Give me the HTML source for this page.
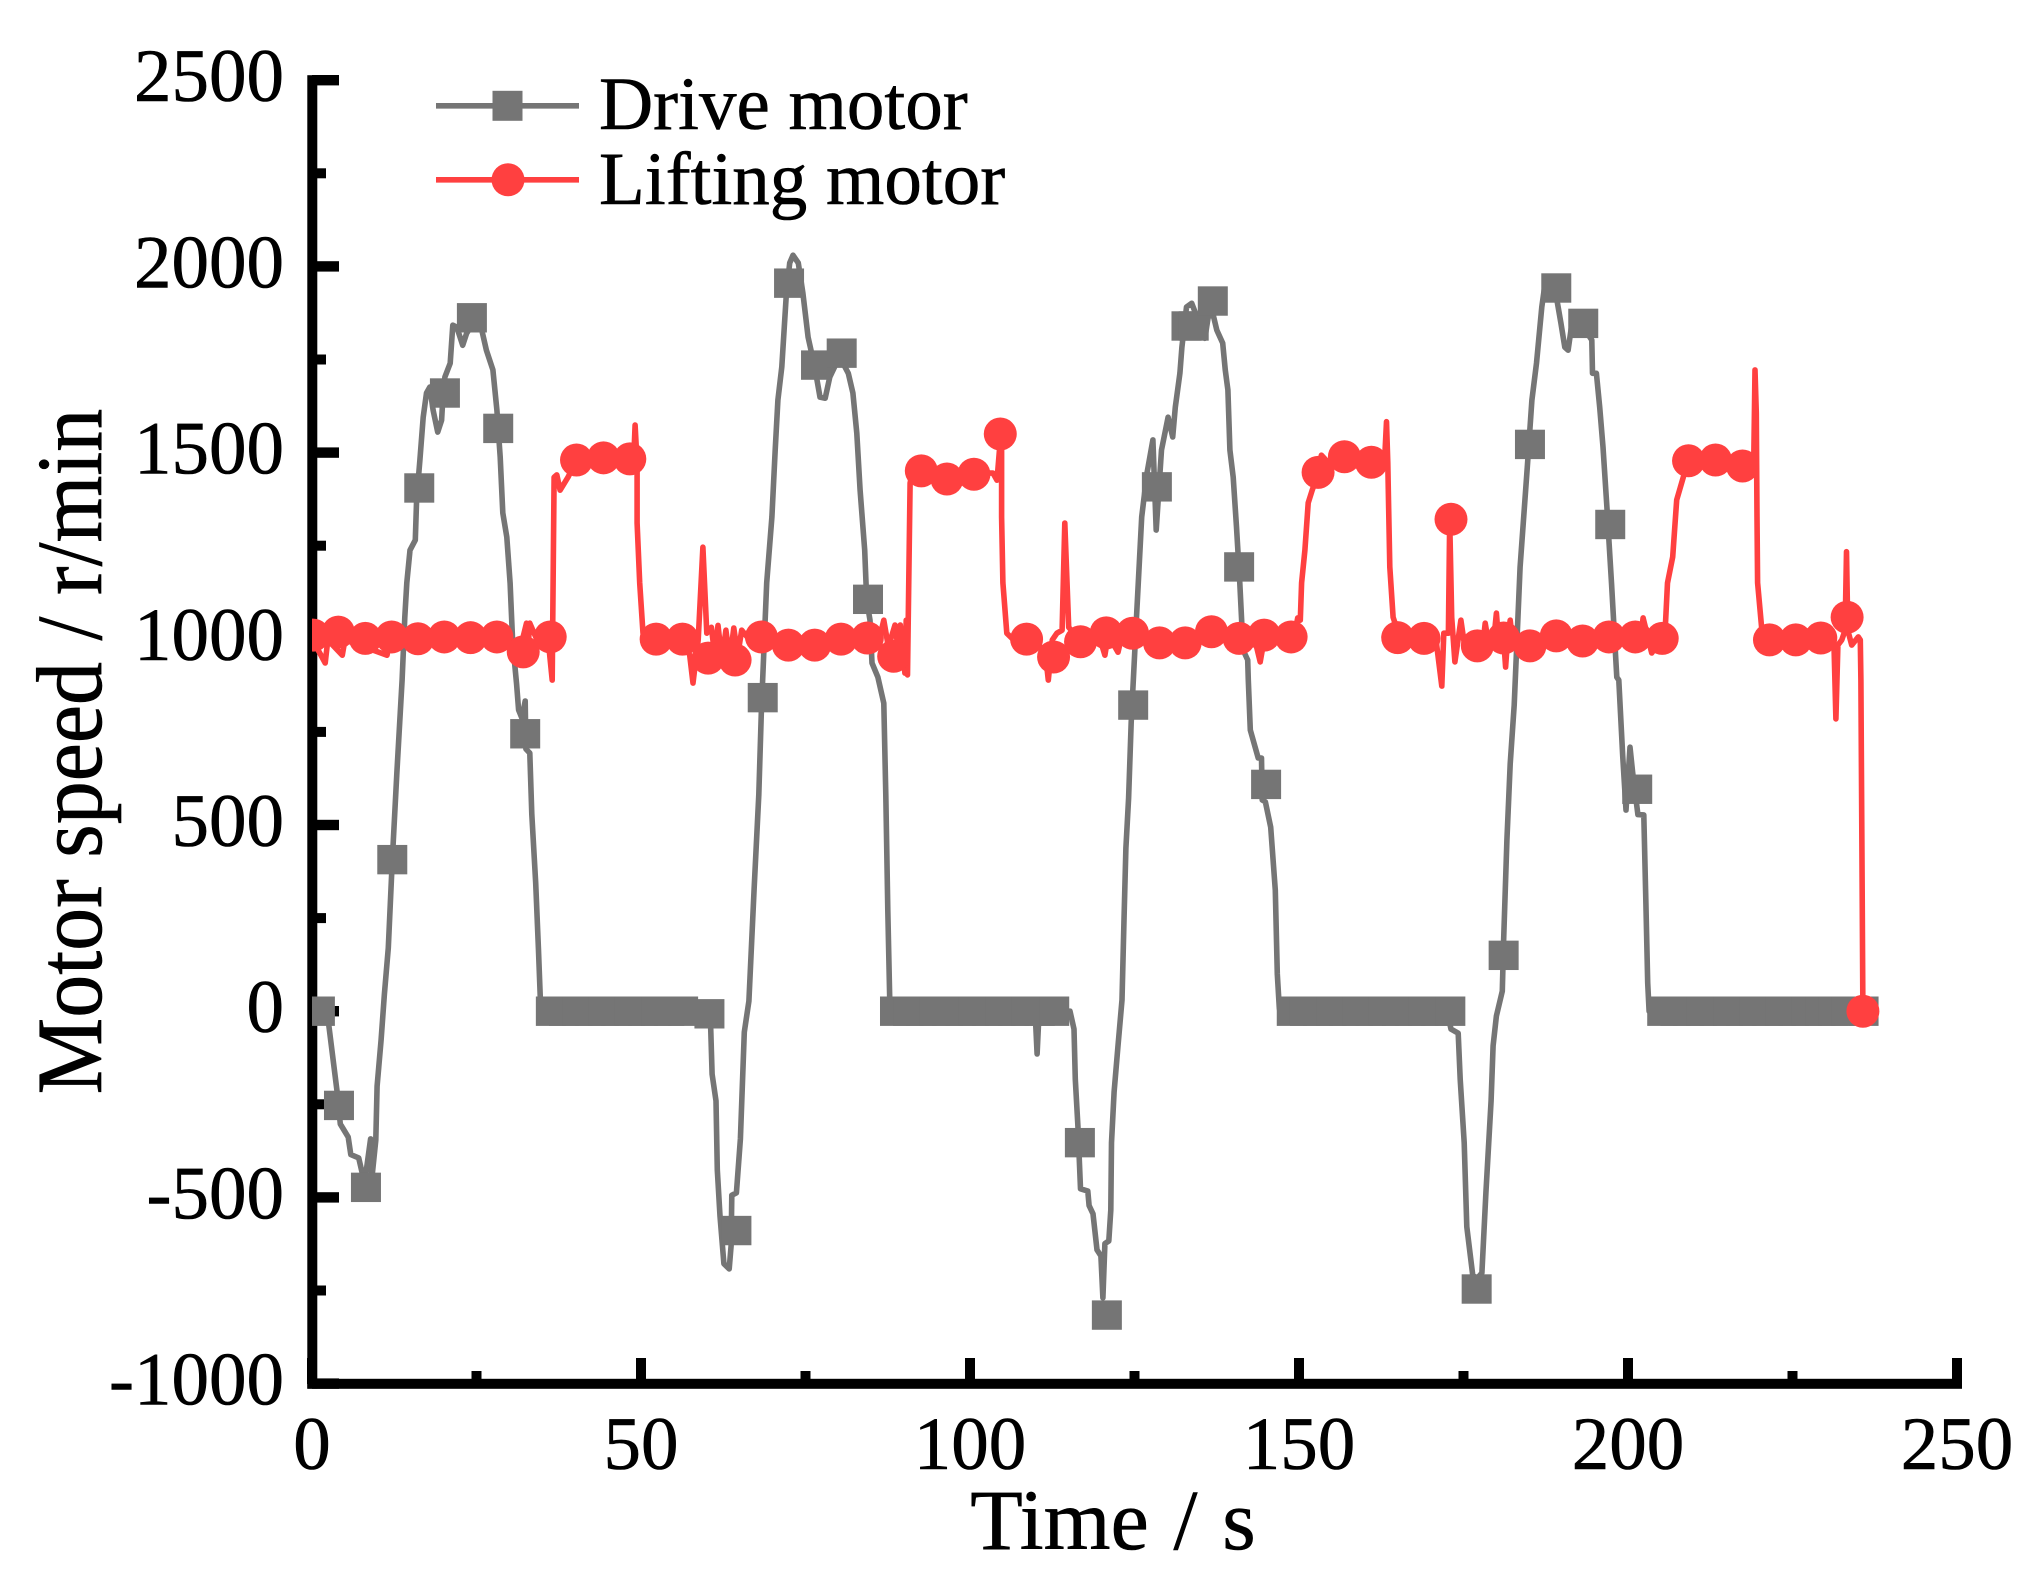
<!DOCTYPE html>
<html lang="en">
<head>
<meta charset="utf-8">
<title>Motor speed over time</title>
<style>
html,body{margin:0;padding:0;background:#fff;}
svg{display:block;}
text{font-family:"Liberation Serif","Times New Roman",serif;fill:#000;stroke:#000;stroke-width:.6px;}
</style>
</head>
<body>
<svg id="chart" xmlns="http://www.w3.org/2000/svg" width="2040" height="1588" viewBox="0 0 2040 1588">
  <rect x="0" y="0" width="2040" height="1588" fill="#ffffff"/>
  <defs>
    <clipPath id="plot-clip"><rect x="312" y="0" width="1728" height="1588"/></clipPath>
  </defs>
  <g id="axes"></g>
  <g id="plot" clip-path="url(#plot-clip)"></g>
  <text x="1113" y="1549" font-size="86" text-anchor="middle" word-spacing="3.3">Time / s</text>
  <text transform="translate(101 751.5) rotate(-90) scale(1 1.08)" font-size="86" text-anchor="middle">Motor speed / r/min</text>
  <g>
    <g>
      <line x1="436" y1="105.8" x2="579" y2="105.8" stroke="#757575" stroke-width="5.6"/>
      <rect x="492.5" y="90.8" width="30" height="30" fill="#757575"/>
      <text x="599" y="129" font-size="75">Drive motor</text>
    </g>
    <g>
      <line x1="436" y1="179.8" x2="579" y2="179.8" stroke="#ff4040" stroke-width="5.6"/>
      <circle cx="508" cy="179.8" r="16.5" fill="#ff4040"/>
      <text x="599" y="204" font-size="75">Lifting motor</text>
    </g>
  </g>
</svg>
<script>
var xMajorTicks = [0, 50, 100, 150, 200, 250];
var xMinorTicks = [25, 75, 125, 175, 225];
var yMajorTicks = [-1000, -500, 0, 500, 1000, 1500, 2000, 2500];
var yMinorTicks = [-750, -250, 250, 750, 1250, 1750, 2250];
var xTickLabels = ["0", "50", "100", "150", "200", "250"];
var yTickLabels = ["-1000", "-500", "0", "500", "1000", "1500", "2000", "2500"];

var driveTimes = [
0.9,2.4,3.8,4.3,5.5,5.9,7.1,7.6,8.1,8.9,
9.1,9.7,9.9,10.5,11.0,11.6,12.2,12.9,13.7,14.1,
14.4,14.9,15.7,15.9,16.4,16.9,17.4,17.9,18.4,19.1,
19.7,19.9,20.2,21.0,21.4,22.0,22.9,23.5,24.5,25.8,
26.5,27.5,28.1,28.6,29.0,29.6,30.1,30.5,31.1,31.4,
31.9,32.4,32.5,33.1,33.4,34.0,34.4,34.7,34.8,60.1,
60.6,60.8,61.4,61.6,62.0,62.6,63.4,63.7,63.8,64.5,
65.1,65.7,66.4,67.2,67.9,68.3,69.1,69.9,70.4,70.8,
71.4,72.1,72.6,73.1,73.9,74.6,75.4,76.4,77.2,78.0,
78.7,79.7,80.7,81.5,82.2,82.8,83.3,84.0,84.3,84.8,
85.1,86.0,86.9,87.2,87.5,87.8,88.0,109.9,110.2,110.5,
115.2,115.8,116.0,116.4,116.8,117.9,118.1,118.7,119.3,119.9,
120.2,120.5,121.1,121.4,121.5,121.9,122.5,123.1,123.4,123.7,
124.1,124.5,125.3,126.1,126.9,127.8,128.3,129.1,130.1,130.8,
131.2,131.9,132.2,132.9,133.7,134.7,135.7,136.2,136.9,137.5,
138.4,138.8,139.2,139.5,140.0,140.5,141.0,141.5,142.2,142.3,
142.6,143.8,144.3,144.4,144.9,145.7,146.4,146.7,147.0,147.1,
172.5,173.1,174.2,174.5,175.1,175.5,176.4,177.0,177.8,178.4,
179.2,179.5,180.0,180.9,181.1,181.6,182.1,182.7,183.6,184.7,
185.4,186.1,186.9,187.4,188.2,189.2,189.8,190.4,190.9,191.4,
193.5,194.5,194.6,195.2,195.7,196.2,196.8,197.5,198.3,198.6,
199.2,199.7,200.3,200.7,201.5,202.4,202.7,203.0,203.2,235.8
];
var driveSpeeds = [
0,-16,-214,-303,-338,-385,-394,-432,-447,-343,
-448,-346,-201,-77,46,170,406,642,889,1058,
1150,1238,1265,1373,1480,1595,1660,1676,1614,1555,
1587,1649,1703,1740,1842,1837,1788,1820,1848,1829,
1775,1722,1614,1488,1338,1273,1150,989,878,809,
787,833,704,693,529,344,170,35,0,-5,
-45,-169,-241,-426,-550,-678,-692,-630,-494,-488,
-343,-56,27,333,581,809,1150,1327,1507,1641,
1730,1928,2009,2030,2009,1928,1810,1730,1649,1646,
1703,1740,1740,1713,1660,1552,1399,1238,1104,1050,
935,897,827,581,272,35,0,0,-115,0,
0,-48,-183,-308,-477,-483,-522,-544,-641,-657,
-770,-624,-617,-534,-353,-217,-93,30,245,438,
572,776,1058,1327,1445,1534,1292,1507,1595,1542,
1622,1713,1783,1891,1901,1855,1807,1864,1874,1829,
1794,1721,1668,1507,1434,1300,1150,970,943,889,
755,680,680,567,562,494,325,100,9,0,
0,-48,-59,-183,-353,-579,-708,-719,-703,-488,
-240,-93,-13,54,188,459,664,822,1193,1461,
1641,1740,1891,1955,1969,1910,1848,1783,1775,1837,
1829,1802,1713,1713,1622,1515,1354,1150,897,889,
686,540,709,642,528,527,301,76,0,0
];
var driveMarkerTimes = [
1.2,4.1,8.2,12.2,16.3,20.2,24.3,28.3,32.4,
36.3,38.3,40.3,42.3,44.3,46.3,48.3,50.3,52.3,54.3,56.4,
60.4,64.5,68.5,72.5,76.6,80.5,84.5,
88.6,90.6,92.6,94.6,96.6,98.6,100.6,102.6,104.6,106.6,108.6,110.6,112.8,
116.7,120.8,124.8,128.4,132.9,134.0,136.9,140.9,145.0,
148.9,150.9,152.9,154.9,156.9,158.9,160.9,162.9,164.9,166.9,168.9,170.9,173.0,
177.0,181.1,185.1,189.1,193.2,197.3,201.4,
205.2,207.2,209.2,211.2,213.2,215.2,217.2,219.2,221.2,223.2,225.2,227.2,229.2,231.2,233.2,235.8
];
var driveMarkerSpeeds = [
0,-253,-473,407,1405,1660,1862,1565,745,
0,0,0,0,0,0,0,0,0,0,0,
-7,-589,842,1955,1735,1767,1106,
0,0,0,0,0,0,0,0,0,0,0,0,0,
-353,-816,822,1408,1840,1840,1907,1193,609,
0,0,0,0,0,0,0,0,0,0,0,0,0,
-746,150,1522,1942,1847,1307,596,
0,0,0,0,0,0,0,0,0,0,0,0,0,0,0,0
];

var liftTimes = [
0,2.0,2.4,4.6,5.0,11.4,11.9,17.9,28.6,31.6,
32.6,32.8,33.1,34.2,35.9,36.5,36.8,37.2,37.7,38.9,
40.2,43.8,48.3,48.9,49.1,49.4,49.4,49.8,50.3,51.4,
56.4,57.4,57.9,58.7,59.4,60.0,60.7,61.2,61.7,62.3,
62.9,63.5,64.1,64.7,65.3,66.5,84.8,86.0,86.9,87.6,
88.6,89.1,89.4,90.1,90.3,90.5,90.9,91.3,92.4,103.5,
104.1,104.6,104.8,104.8,105.0,105.6,107.1,109.1,111.4,111.9,
112.5,113.2,114.0,114.4,115.0,116.7,119.8,120.5,121.0,122.5,
123.1,127.4,130.4,143.3,144.1,144.7,149.2,149.8,150.2,150.4,150.9,
151.4,152.0,152.7,153.4,154.4,156.9,161.4,163.0,163.3,163.5,163.6,
163.8,164.3,164.8,169.9,170.7,171.7,172.0,172.7,172.9,173.2,173.7,
174.6,175.2,175.8,177.5,178.1,178.3,178.7,179.6,180.0,180.3,
181.1,181.4,181.7,182.1,182.4,183.1,201.9,202.3,203.6,205.0,
205.7,206.0,206.8,207.4,208.4,208.9,211.0,218.6,219.1,219.3,219.5,
219.6,219.7,220.3,221.6,229.2,230.7,231.3,231.6,231.9,232.5,
233.0,233.2,233.4,234.0,235.0,235.3,235.4,235.7
];
var liftSpeeds = [
1000,935,997,956,997,956,997,997,997,970,
1042,970,1042,997,997,889,1434,1440,1399,1434,
1480,1486,1480,1486,1574,1472,1311,1150,1015,991,
1002,956,881,997,1246,1015,1031,956,1036,943,
1023,943,1029,956,1023,997,997,983,1050,978,
1037,970,1037,908,1050,903,1418,1453,1445,1445,
1426,1534,1507,1327,1150,1015,989,997,970,889,
997,1015,1023,1311,1031,997,997,956,1010,964,
1010,997,997,997,938,997,997,1056,1050,1150,1238,
1365,1399,1434,1493,1474,1486,1474,1474,1583,1472,1372,
1193,1058,1031,997,1015,873,1015,1015,1319,1058,938,
1050,978,997,997,1010,1042,1000,997,1069,1000,
1000,924,1000,1050,1000,997,997,1056,962,997,
1042,1150,1220,1373,1434,1467,1474,1467,1467,1722,1606,
1327,1150,1031,997,997,997,983,785,983,997,
1023,1234,1023,983,1005,997,889,0
];
var liftMarkerTimes = [
0.2,4.0,8.1,12.1,16.1,20.1,24.1,28.1,32.1,36.2,
40.2,44.3,48.3,52.3,56.3,60.2,64.3,68.3,72.4,76.4,
80.4,84.4,88.4,92.6,96.5,100.6,104.6,108.6,112.7,116.8,
120.7,124.7,128.8,132.7,136.7,140.9,144.7,148.8,152.9,156.9,
161.0,165.0,169.0,173.1,177.1,181.1,185.1,189.1,193.1,197.1,
201.1,205.2,209.2,213.3,217.4,221.5,225.5,229.3,233.3,235.7
];
var liftMarkerSpeeds = [
1010,1018,1001,1005,1000,1005,1003,1005,965,1005,
1480,1486,1483,999,999,948,943,1005,983,983,
999,1002,953,1451,1429,1442,1550,999,951,992,
1016,1015,989,989,1019,1001,1010,1005,1447,1489,
1474,1003,1001,1321,981,1002,981,1008,994,1005,
1005,1001,1478,1480,1464,997,997,1002,1058,0
];

var SVG_NS = "http://www.w3.org/2000/svg";
var X_ORIGIN = 312, X_PER_SECOND = 6.58;
var Y_ZERO = 1011.2, Y_PER_RPM = 0.3724;
var GREY = "#757575", RED = "#ff4040";

function xScale(t) { return X_ORIGIN + t * X_PER_SECOND; }
function yScale(v) { return Y_ZERO - v * Y_PER_RPM; }

function make(tag, parent, attrs) {
  var el = document.createElementNS(SVG_NS, tag);
  for (var k in attrs) { el.setAttribute(k, attrs[k]); }
  parent.appendChild(el);
  return el;
}

function drawAxes() {
  var g = document.getElementById("axes");
  var left = xScale(0), bottom = yScale(-1000), top = yScale(2500), right = xScale(250);

  xMajorTicks.forEach(function (t, i) {
    var x = xScale(t);
    var tick = make("rect", g, { x: x - 5, y: 1358, width: 10, height: 26, fill: "#000" });
    
    
    var label = make("text", g, { x: x, y: 1469, "font-size": 75, "text-anchor": "middle" });
    label.textContent = xTickLabels[i];
    
    
  });
  xMinorTicks.forEach(function (t) {
    var tick = make("rect", g, { x: xScale(t) - 5, y: 1371, width: 10, height: 13, fill: "#000" });
    
    
  });
  yMajorTicks.forEach(function (v, i) {
    var y = yScale(v);
    var tick = make("rect", g, { x: 312, y: y - 5.2, width: 27, height: 10.4, fill: "#000" });
    
    
    var label = make("text", g, { x: 284, y: y + 21, "font-size": 75, "text-anchor": "end" });
    label.textContent = yTickLabels[i];
    
    
  });
  yMinorTicks.forEach(function (v) {
    var tick = make("rect", g, { x: 312, y: yScale(v) - 5, width: 14, height: 10, fill: "#000" });
    
    
  });

  var yLine = make("rect", g, { x: left - 4.7, y: top - 5, width: 10, height: bottom - top + 10, fill: "#000" });
  
  
  var xLine = make("rect", g, { x: left - 4.7, y: bottom - 4.8, width: right - left + 9.7, height: 10, fill: "#000" });
  
  
}

function linePoints(times, speeds) {
  return times.map(function (t, i) {
    return xScale(t).toFixed(1) + "," + yScale(speeds[i]).toFixed(1);
  }).join(" ");
}

function drawDrive(parent) {
  var g = make("g", parent, {});
  
  
  var line = make("polyline", g, {
    points: linePoints(driveTimes, driveSpeeds),
    fill: "none", stroke: GREY, "stroke-width": 5.6, "stroke-linejoin": "round"
  });
  
  
  driveMarkerTimes.forEach(function (t, i) {
    var m = make("rect", g, {
      x: xScale(t) - 15, y: yScale(driveMarkerSpeeds[i]) - 14.7,
      width: 30, height: 29.4, fill: GREY
    });
    
    
  });
}

function drawLift(parent) {
  var g = make("g", parent, {});
  
  
  var line = make("polyline", g, {
    points: linePoints(liftTimes, liftSpeeds),
    fill: "none", stroke: RED, "stroke-width": 5.6, "stroke-linejoin": "round"
  });
  
  
  liftMarkerTimes.forEach(function (t, i) {
    var m = make("circle", g, {
      cx: xScale(t), cy: yScale(liftMarkerSpeeds[i]), r: 16.5, fill: RED
    });
    
    
  });
}

drawAxes();
var plot = document.getElementById("plot");
drawDrive(plot);
drawLift(plot);
</script>
</body>
</html>
